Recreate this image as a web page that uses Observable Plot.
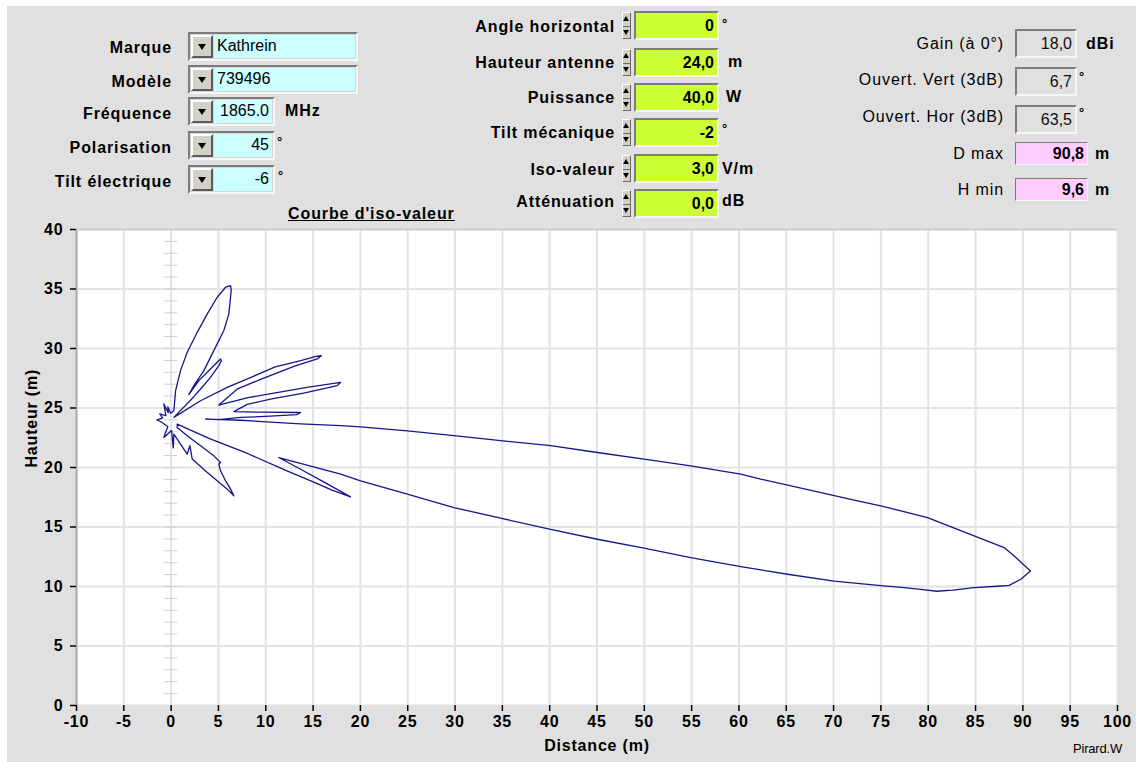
<!DOCTYPE html>
<html lang="fr">
<head>
<meta charset="utf-8">
<script src="https://cdn.jsdelivr.net/npm/d3@7"></script>
<script src="https://cdn.jsdelivr.net/npm/@observablehq/plot@0.6"></script>
<style>
  body { margin: 0; background: #fff; }
  #page { position: relative; width: 1136px; height: 762px; overflow: hidden;
          font-family: "Liberation Sans", Arial, sans-serif; color: #000; }
  #panel { position: absolute; left: 7px; top: 6px; right: 0; bottom: 0; background: #e0e0e0; }
  .lbl { position: absolute; font-size: 16px; line-height: 18px; white-space: nowrap; letter-spacing: 0.9px; }
  .b { font-weight: bold; }
  .sunk { position: absolute; box-sizing: border-box; border: 2px solid;
          border-color: #7c7c7c #f6f6f6 #f6f6f6 #7c7c7c; background: #d6d6d6; display: flex; padding: 1px; }
  .btn { width: 22px; flex: none; box-sizing: border-box; border: 2px solid;
         border-color: #fff #5a5a5a #5a5a5a #fff; background: #d4d0c8; position: relative; margin-right: 1px; }
  .btn::after { content: ""; position: absolute; left: 5px; top: 7px; border-left: 4px solid transparent;
                border-right: 4px solid transparent; border-top: 6px solid #000; }
  .fld { flex: 1; font-size: 16px; line-height: 22px; padding: 0 3px; white-space: nowrap; overflow: hidden; }
  .spin { position: absolute; width: 9px; box-sizing: border-box; border: 1px solid;
          border-color: #fff #6a6a6a #6a6a6a #fff; background: #d4d0c8; }
  .spin::before { content: ""; position: absolute; left: 0px; top: 3px; border-left: 3.5px solid transparent;
                  border-right: 3.5px solid transparent; border-bottom: 5px solid #000; }
  .spin::after { content: ""; position: absolute; left: 0px; bottom: 3px; border-left: 3.5px solid transparent;
                 border-right: 3.5px solid transparent; border-top: 5px solid #000; }
  .spin i { position: absolute; left: 0; right: 0; top: 50%; border-top: 1px solid #6a6a6a; }
  #chart { position: absolute; left: 0; top: 220px; }
  #title { position: absolute; left: 288px; top: 205px; font-size: 16px; font-weight: bold;
           text-decoration: underline; letter-spacing: 0.9px; white-space: nowrap; }
  #author { position: absolute; left: 1073px; top: 741px; font-size: 13px; letter-spacing: -0.2px; }
</style>
</head>
<body>
<div id="page">
  <div id="panel"></div>
  <div id="controls"></div>
  <div id="title">Courbe d'iso-valeur</div>
  <div id="chart"></div>
  <div id="author">Pirard.W</div>
</div>
<script>
// ---- Antenna settings shown in the panel ----
const antennaLabels = ["Marque", "Modèle", "Fréquence", "Polarisation", "Tilt électrique"];
const antennaValues = ["Kathrein", "739496", "1865.0", "45", "-6"];
const antennaUnits  = ["", "", "MHz", "°", "°"];

const siteLabels = ["Angle horizontal", "Hauteur antenne", "Puissance", "Tilt mécanique", "Iso-valeur", "Atténuation"];
const siteValues = ["0", "24,0", "40,0", "-2", "3,0", "0,0"];
const siteUnits  = ["°", "m", "W", "°", "V/m", "dB"];

const resultLabels = ["Gain (à 0°)", "Ouvert. Vert (3dB)", "Ouvert. Hor (3dB)", "D max", "H min"];
const resultValues = ["18,0", "6,7", "63,5", "90,8", "9,6"];
const resultUnits  = ["dBi", "°", "°", "m", "m"];

// ---- Iso-value contour (3 V/m), distance / height in metres, traced lobe by lobe ----
const upperLobe = [[0.29,24.77],[0.47,26.46],[0.99,28.14],[1.70,29.68],[2.76,31.36],[3.82,32.91],[4.87,34.31],
  [5.75,35.15],[6.28,35.29],[6.35,34.87],[6.10,32.91],[5.57,31.51],[4.51,29.82],[3.46,28.14],[2.40,26.88],[1.87,26.12]];
const sideLobe1 = [[2.93,27.30],[4.16,28.28],[5.22,29.12],[5.30,28.95],[5.04,28.56],[4.16,27.58],[3.11,26.60],[2.40,25.95]];
const sideLobe2 = [[0.29,24.21],[3.11,25.61],[5.93,26.73],[8.50,27.60],[11.0,28.45],[13.7,28.98],[15.3,29.34],[15.87,29.40],
  [15.44,29.12],[12.97,28.50],[9.45,27.40],[7.00,26.60],[5.04,25.25]];
const sideLobe3 = [[8.00,25.85],[10.86,26.25],[14.5,26.75],[17.91,27.16],[17.56,26.88],[14.0,26.25],[10.5,25.75],[8.04,25.30],[6.63,24.69]];
const sideLobe4 = [[9.45,24.65],[13.68,24.62],[13.26,24.44],[10.5,24.31],[7.34,24.21],[5.01,24.02],[3.64,24.07]];
const mainLobeTop = [[7.34,23.97],[13.68,23.66],[17.91,23.52],[20.02,23.42],[24.96,23.07],[29.88,22.67],[34.82,22.25],
  [40.1,21.83],[45.04,21.26],[49.97,20.71],[54.9,20.14],[60.19,19.44],[62.3,19.02],[67.38,18.12],[72.53,17.20],[74.99,16.78],
  [79.93,15.79],[84.85,14.25],[88.02,13.27],[89.08,12.57],[90.8,11.30]];
const mainLobeBottom = [[89.79,10.61],[88.55,10.10],[87.33,10.02],[84.85,9.90],[82.57,9.70],[80.9,9.60],[79.22,9.75],
  [77.45,9.90],[74.99,10.07],[70.05,10.46],[65.13,11.03],[60.19,11.67],[54.9,12.42],[49.97,13.22],[45.04,13.97],[40.1,14.81],
  [34.82,15.74],[29.88,16.63],[24.96,17.76],[20.02,18.88],[17.91,19.44],[11.38,20.84]];
const lowerLobe1 = [[13.68,19.85],[16.5,18.62],[18.96,17.53],[17.0,18.10],[15.5,18.63],[12.0,19.80],[8.0,21.20],[4.0,22.45],[0.64,23.65]];
const lowerLobe2 = [[0.64,23.37],[1.70,22.67],[3.11,21.83],[4.51,20.98],[5.22,20.42],[5.04,20.29],[5.22,19.72],[5.75,18.88],
  [6.28,18.18],[6.63,17.62],[5.93,18.18],[4.87,18.88],[3.82,19.58],[2.23,20.71],[1.98,21.83],[1.70,21.13],[0.99,21.97],[0.29,22.81]];
const backLobes = [[0.22,21.65],[0.05,23.10],[-0.77,22.53],[-0.35,23.45],[-1.0,23.80],[-1.5,24.00],[-0.9,24.15],[-1.2,24.50],
  [-0.55,24.35],[-0.77,25.34],[-0.30,24.60],[-0.35,25.10],[-0.05,24.55]];

const xTicks = [-10, -5, 0, 5, 10, 15, 20, 25, 30, 35, 40, 45, 50, 55, 60, 65, 70, 75, 80, 85, 90, 95, 100];
const yTicks = [0, 5, 10, 15, 20, 25, 30, 35, 40];
const mastMarks = d3.range(1, 40);   // one mark per metre of mast

const contour = [upperLobe, sideLobe1, sideLobe2, sideLobe3, sideLobe4, mainLobeTop, mainLobeBottom,
                 lowerLobe1, lowerLobe2, backLobes].flat().map(([d, h]) => ({d, h}));

// ---- Panel controls ----
const controls = document.getElementById("controls");
function add(html) { controls.insertAdjacentHTML("beforeend", html); }
function label(text, right, cy, bold = true) {
  add(`<div class="lbl ${bold ? "b" : ""}" style="right:${1136 - right}px;top:${cy - 9}px;text-align:right">${text}</div>`);
}
function unit(text, left, cy, size = 16) {
  add(`<div class="lbl b" style="left:${left}px;top:${cy - 9}px;font-size:${size}px">${text}</div>`);
}

const leftTops = [32, 65, 97, 131, 165];
const leftLabelY = [48, 82, 114, 148, 182];
antennaLabels.forEach((t, i) => {
  label(t, 172, leftLabelY[i]);
  const wide = i < 2;
  add(`<div class="sunk" style="left:188px;top:${leftTops[i]}px;width:${wide ? 170 : 87}px;height:29px">
         <div class="btn"></div>
         <div class="fld" style="background:#ccffff;text-align:${wide ? "left" : "right"}">${antennaValues[i]}</div></div>`);
});
unit(antennaUnits[2], 285, 111);
unit(antennaUnits[3], 277, 142, 13);
unit(antennaUnits[4], 278, 176, 13);

const midTops = [11, 48, 83, 118, 154, 189];
const midLabelY = [27, 63, 98, 133, 170, 202];
siteLabels.forEach((t, i) => {
  label(t, 615, midLabelY[i]);
  add(`<div class="spin" style="left:622px;top:${midTops[i] + 1}px;height:27px"><i></i></div>`);
  add(`<div class="sunk" style="left:634px;top:${midTops[i]}px;width:85px;height:29px;padding:0">
         <div class="fld b" style="background:#ccff33;text-align:right;line-height:25px">${siteValues[i]}</div></div>`);
});
unit(siteUnits[0], 722, 24, 13);
unit(siteUnits[1], 728, 62);
unit(siteUnits[2], 726, 97);
unit(siteUnits[3], 722, 129, 13);
unit(siteUnits[4], 722, 169);
unit(siteUnits[5], 722, 201);

const rightTops = [29, 67, 105];
const rightLabelY = [44, 80, 117, 154, 190];
resultLabels.forEach((t, i) => label(t, 1004, rightLabelY[i], false));
rightTops.forEach((top, i) => {
  add(`<div class="sunk" style="left:1015px;top:${top}px;width:62px;height:29px;padding:0;background:#e0e0e0">
         <div class="fld" style="text-align:right;line-height:25px;color:#111">${resultValues[i]}</div></div>`);
});
[142, 178].forEach((top, j) => {
  add(`<div class="sunk" style="left:1015px;top:${top}px;width:73px;height:23px;padding:0;border-width:1px;background:#ffccff">
         <div class="fld b" style="text-align:right;line-height:21px">${resultValues[3 + j]}</div></div>`);
});
unit(resultUnits[0], 1086, 44);
unit(resultUnits[1], 1079, 77, 13);
unit(resultUnits[2], 1079, 113, 13);
unit(resultUnits[3], 1095, 154);
unit(resultUnits[4], 1095, 190);

// ---- Chart: vertical section of the iso-value curve around the mast ----
const chart = Plot.plot({
  width: 1136,
  height: 542,
  marginTop: 9,
  marginRight: 19,
  marginBottom: 57,
  marginLeft: 76,
  x: {domain: [-10, 100]},
  y: {domain: [0, 40]},
  style: {
    background: "transparent",
    fontFamily: '"Liberation Sans", Arial, sans-serif',
    fontSize: "16px",
    fontWeight: "bold",
    letterSpacing: "0.8px",
    color: "#000",
    overflow: "visible"
  },
  marks: [
    Plot.frame({fill: "#fff", stroke: null}),
    Plot.gridX(xTicks, {stroke: "#e3e3e3", strokeOpacity: 1, strokeWidth: 2}),
    Plot.gridY(yTicks, {stroke: "#e3e3e3", strokeOpacity: 1, strokeWidth: 2}),
    Plot.ruleY(mastMarks, {x1: -0.7, x2: 0.7, stroke: "#d0d0d0"}),
    Plot.ruleX([-10], {stroke: "#a8a8a8", strokeWidth: 2}),
    Plot.ruleY([40], {stroke: "#c8c8c8", strokeWidth: 1.5}),
    Plot.line(contour, {x: "d", y: "h", curve: "linear-closed", stroke: "#16168c", strokeWidth: 1.3}),
    Plot.axisX(xTicks, {tickSize: 6, tickPadding: 4, tickFormat: d => String(d), label: null, strokeWidth: 1.5}),
    Plot.axisY(yTicks, {tickSize: 6, tickPadding: 7, tickFormat: d => String(d), label: null, strokeWidth: 1.5}),
    Plot.text(["Distance (m)"], {frameAnchor: "bottom", dy: 45}),
    Plot.text(["Hauteur (m)"], {frameAnchor: "left", dx: -45, rotate: -90})
  ]
});
document.getElementById("chart").append(chart);
</script>
</body>
</html>
